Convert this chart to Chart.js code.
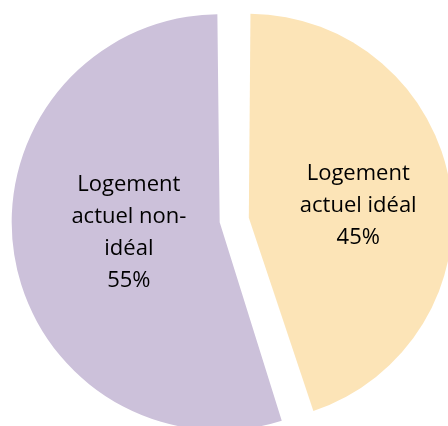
<!doctype html>
<html lang="fr">
  <head>
    <meta charset="utf-8">
    <script src="https://cdn.jsdelivr.net/npm/chart.js"></script>
    <style>
      html, body { margin: 0; padding: 0; background: #fff; }
      #wrap { width: 448px; height: 426px; position: relative; }
    </style>
  </head>
  <body>
    <div id="wrap"><canvas id="pie"></canvas></div>

    <script>
    // data
    const categories = ['Logement actuel idéal', 'Logement actuel non-idéal'];
    const values = [45, 55];
    const labelLines = [
        ['Logement', 'actuel idéal', '45%'],
        ['Logement', 'actuel non-', 'idéal', '55%']
    ];
    const colors = ['#FCE4B7', '#CCC1DA'];

    // draws the text in each slice (no datalabels plugin available)
    const sliceLabels = {
        id: 'sliceLabels',
        afterDatasetsDraw(chart, args, opts) {
            const ctx = chart.ctx;
            const arcs = chart.getDatasetMeta(0).data;
            ctx.save();
            ctx.font = opts.font;
            ctx.fillStyle = opts.color;
            ctx.textAlign = 'center';
            ctx.textBaseline = 'middle';
            arcs.forEach(function(arc, i) {
                const mid = (arc.startAngle + arc.endAngle) / 2;
                const r = arc.outerRadius * opts.radius[i];
                const cx = arc.x + Math.cos(mid) * r;
                const cy = arc.y + Math.sin(mid) * r + opts.shiftY[i];
                const lines = labelLines[i];
                const top = cy - (lines.length - 1) * opts.lineHeight / 2;
                lines.forEach(function(line, j) {
                    ctx.fillText(line, cx, top + j * opts.lineHeight);
                });
            });
            ctx.restore();
        }
    };

    new Chart(document.getElementById('pie'), {
        type: 'pie',
        data: {
            labels: categories,
            datasets: [{
                data: values,
                backgroundColor: colors,
                borderWidth: 0,
                // exploded slices (offset/4 is the shift, it also grows the radius)
                offset: [60, 58]
            }]
        },
        options: {
            responsive: true,
            maintainAspectRatio: false,
            animation: false,
            radius: 193.5,
            layout: { padding: { left: 20, top: 14, right: 0, bottom: 0 } },
            plugins: {
                legend: { display: false },
                tooltip: { enabled: false },
                sliceLabels: {
                    font: '22px "Open Sans"',
                    color: '#000',
                    lineHeight: 32,
                    radius: [0.65, 0.55],
                    shiftY: [5, -4]
                }
            }
        },
        plugins: [sliceLabels]
    });
    </script>
  </body>
</html>
